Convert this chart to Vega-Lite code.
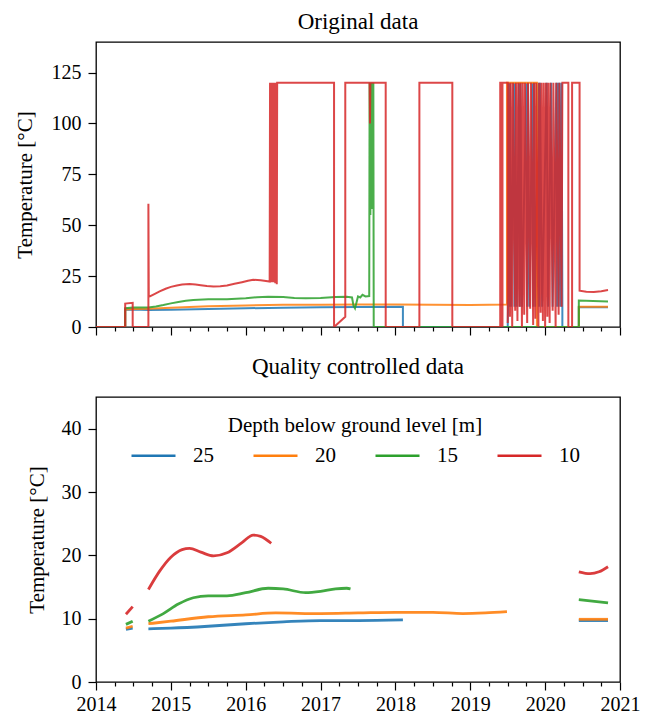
{
  "$schema": "https://vega.github.io/schema/vega-lite/v6.json",
  "padding": {"left": 13, "top": 10, "right": 10, "bottom": 0},
  "spacing": 17,
  "config": {
    "font": "Liberation Serif",
    "view": {"stroke": "#000000", "strokeWidth": 1.3},
    "title": {"fontSize": 23, "fontWeight": "normal", "color": "#000000"},
    "axis": {
      "labelFontSize": 20, "titleFontSize": 21, "titleFontWeight": "normal",
      "labelColor": "#000000", "titleColor": "#000000", "tickColor": "#000000",
      "domain": false, "grid": false, "tickWidth": 1.2, "labelPadding": 6
    }
  },
  "resolve": {"scale": {"color": "independent"}},
  "datasets": {
    "raw": [
      {"depth": "25", "year": 2014.0, "temp": 0},
      {"depth": "25", "year": 2014.39, "temp": 0},
      {"depth": "25", "year": 2014.39, "temp": 8.5},
      {"depth": "25", "year": 2014.5, "temp": 8.6},
      {"depth": "25", "year": 2014.7, "temp": 8.4},
      {"depth": "25", "year": 2015.0, "temp": 8.5},
      {"depth": "25", "year": 2015.5, "temp": 8.8},
      {"depth": "25", "year": 2016.0, "temp": 9.2},
      {"depth": "25", "year": 2016.5, "temp": 9.5},
      {"depth": "25", "year": 2017.0, "temp": 9.7},
      {"depth": "25", "year": 2017.5, "temp": 9.8},
      {"depth": "25", "year": 2018.1, "temp": 9.9},
      {"depth": "25", "year": 2018.1, "temp": 0},
      {"depth": "25", "year": 2019.5, "temp": 0},
      {"depth": "25", "year": 2019.505, "temp": 10},
      {"depth": "25", "year": 2019.51, "temp": 120},
      {"depth": "25", "year": 2019.52, "temp": 10},
      {"depth": "25", "year": 2019.53, "temp": 120},
      {"depth": "25", "year": 2019.545, "temp": 10},
      {"depth": "25", "year": 2019.58, "temp": 120},
      {"depth": "25", "year": 2019.59, "temp": 10},
      {"depth": "25", "year": 2019.6, "temp": 120},
      {"depth": "25", "year": 2019.62, "temp": 10},
      {"depth": "25", "year": 2019.65, "temp": 120},
      {"depth": "25", "year": 2019.66, "temp": 10},
      {"depth": "25", "year": 2019.67, "temp": 120},
      {"depth": "25", "year": 2019.69, "temp": 10},
      {"depth": "25", "year": 2019.75, "temp": 120},
      {"depth": "25", "year": 2019.76, "temp": 10},
      {"depth": "25", "year": 2019.77, "temp": 120},
      {"depth": "25", "year": 2019.79, "temp": 10},
      {"depth": "25", "year": 2019.83, "temp": 120},
      {"depth": "25", "year": 2019.84, "temp": 10},
      {"depth": "25", "year": 2019.85, "temp": 120},
      {"depth": "25", "year": 2019.87, "temp": 10},
      {"depth": "25", "year": 2019.91, "temp": 120},
      {"depth": "25", "year": 2019.92, "temp": 10},
      {"depth": "25", "year": 2019.93, "temp": 120},
      {"depth": "25", "year": 2019.96, "temp": 10},
      {"depth": "25", "year": 2020.02, "temp": 120},
      {"depth": "25", "year": 2020.04, "temp": 10},
      {"depth": "25", "year": 2020.08, "temp": 120},
      {"depth": "25", "year": 2020.1, "temp": 10},
      {"depth": "25", "year": 2020.15, "temp": 120},
      {"depth": "25", "year": 2020.16, "temp": 10},
      {"depth": "25", "year": 2020.17, "temp": 120},
      {"depth": "25", "year": 2020.18, "temp": 10},
      {"depth": "25", "year": 2020.19, "temp": 120},
      {"depth": "25", "year": 2020.21, "temp": 10},
      {"depth": "25", "year": 2020.22, "temp": 120},
      {"depth": "25", "year": 2020.23, "temp": 10},
      {"depth": "25", "year": 2020.23, "temp": 0},
      {"depth": "25", "year": 2020.45, "temp": 0},
      {"depth": "25", "year": 2020.45, "temp": 9.7},
      {"depth": "25", "year": 2020.84, "temp": 9.7},

      {"depth": "20", "year": 2014.0, "temp": 0},
      {"depth": "20", "year": 2014.39, "temp": 0},
      {"depth": "20", "year": 2014.39, "temp": 8.6},
      {"depth": "20", "year": 2014.5, "temp": 8.8},
      {"depth": "20", "year": 2014.7, "temp": 9.0},
      {"depth": "20", "year": 2015.0, "temp": 9.4},
      {"depth": "20", "year": 2015.5, "temp": 10.2},
      {"depth": "20", "year": 2016.0, "temp": 10.6},
      {"depth": "20", "year": 2016.5, "temp": 10.9},
      {"depth": "20", "year": 2017.0, "temp": 10.9},
      {"depth": "20", "year": 2017.5, "temp": 11.0},
      {"depth": "20", "year": 2018.0, "temp": 11.1},
      {"depth": "20", "year": 2018.5, "temp": 10.9},
      {"depth": "20", "year": 2019.0, "temp": 10.8},
      {"depth": "20", "year": 2019.49, "temp": 11.1},
      {"depth": "20", "year": 2019.49, "temp": 120},
      {"depth": "20", "year": 2019.89, "temp": 120},
      {"depth": "20", "year": 2019.89, "temp": 0},
      {"depth": "20", "year": 2020.45, "temp": 0},
      {"depth": "20", "year": 2020.45, "temp": 9.9},
      {"depth": "20", "year": 2020.84, "temp": 9.9},

      {"depth": "15", "year": 2014.0, "temp": 0},
      {"depth": "15", "year": 2014.39, "temp": 0},
      {"depth": "15", "year": 2014.39, "temp": 9.2},
      {"depth": "15", "year": 2014.5, "temp": 9.6},
      {"depth": "15", "year": 2014.7, "temp": 9.6},
      {"depth": "15", "year": 2014.8, "temp": 10.1},
      {"depth": "15", "year": 2014.9, "temp": 10.8},
      {"depth": "15", "year": 2015.0, "temp": 11.6},
      {"depth": "15", "year": 2015.1, "temp": 12.3},
      {"depth": "15", "year": 2015.2, "temp": 12.9},
      {"depth": "15", "year": 2015.3, "temp": 13.3},
      {"depth": "15", "year": 2015.5, "temp": 13.6},
      {"depth": "15", "year": 2015.75, "temp": 13.6},
      {"depth": "15", "year": 2016.0, "temp": 14.1},
      {"depth": "15", "year": 2016.15, "temp": 14.6},
      {"depth": "15", "year": 2016.3, "temp": 14.8},
      {"depth": "15", "year": 2016.5, "temp": 14.7},
      {"depth": "15", "year": 2016.65, "temp": 14.3},
      {"depth": "15", "year": 2016.8, "temp": 14.1},
      {"depth": "15", "year": 2017.0, "temp": 14.3},
      {"depth": "15", "year": 2017.2, "temp": 14.7},
      {"depth": "15", "year": 2017.35, "temp": 14.9},
      {"depth": "15", "year": 2017.42, "temp": 14.5},
      {"depth": "15", "year": 2017.44, "temp": 10.5},
      {"depth": "15", "year": 2017.46, "temp": 9.2},
      {"depth": "15", "year": 2017.48, "temp": 12.0},
      {"depth": "15", "year": 2017.5, "temp": 15.0},
      {"depth": "15", "year": 2017.53, "temp": 14.5},
      {"depth": "15", "year": 2017.56, "temp": 15.8},
      {"depth": "15", "year": 2017.6, "temp": 15.0},
      {"depth": "15", "year": 2017.65, "temp": 15.2},
      {"depth": "15", "year": 2017.655, "temp": 120},
      {"depth": "15", "year": 2017.665, "temp": 55},
      {"depth": "15", "year": 2017.675, "temp": 120},
      {"depth": "15", "year": 2017.685, "temp": 58},
      {"depth": "15", "year": 2017.69, "temp": 120},
      {"depth": "15", "year": 2017.7, "temp": 65},
      {"depth": "15", "year": 2017.705, "temp": 120},
      {"depth": "15", "year": 2017.71, "temp": 0},
      {"depth": "15", "year": 2020.45, "temp": 0},
      {"depth": "15", "year": 2020.45, "temp": 13.0},
      {"depth": "15", "year": 2020.84, "temp": 12.5},

      {"depth": "10", "year": 2014.0, "temp": 0},
      {"depth": "10", "year": 2014.39, "temp": 0},
      {"depth": "10", "year": 2014.39, "temp": 11.5},
      {"depth": "10", "year": 2014.49, "temp": 11.9},
      {"depth": "10", "year": 2014.49, "temp": 0},
      {"depth": "10", "year": 2014.7, "temp": 0},
      {"depth": "10", "year": 2014.7, "temp": 60.5},
      {"depth": "10", "year": 2014.705, "temp": 14.8},
      {"depth": "10", "year": 2014.78, "temp": 16.2},
      {"depth": "10", "year": 2014.85, "temp": 17.5},
      {"depth": "10", "year": 2014.93, "temp": 18.8},
      {"depth": "10", "year": 2015.0, "temp": 19.7},
      {"depth": "10", "year": 2015.08, "temp": 20.4},
      {"depth": "10", "year": 2015.15, "temp": 20.9},
      {"depth": "10", "year": 2015.25, "temp": 21.1},
      {"depth": "10", "year": 2015.33, "temp": 20.9},
      {"depth": "10", "year": 2015.4, "temp": 20.5},
      {"depth": "10", "year": 2015.48, "temp": 20.1},
      {"depth": "10", "year": 2015.57, "temp": 19.9},
      {"depth": "10", "year": 2015.66, "temp": 20.0},
      {"depth": "10", "year": 2015.75, "temp": 20.4},
      {"depth": "10", "year": 2015.85, "temp": 21.2},
      {"depth": "10", "year": 2015.95, "temp": 22.0},
      {"depth": "10", "year": 2016.03, "temp": 22.7},
      {"depth": "10", "year": 2016.1, "temp": 23.2},
      {"depth": "10", "year": 2016.2, "temp": 23.0},
      {"depth": "10", "year": 2016.27, "temp": 22.6},
      {"depth": "10", "year": 2016.32, "temp": 22.3},
      {"depth": "10", "year": 2016.325, "temp": 120},
      {"depth": "10", "year": 2016.335, "temp": 22},
      {"depth": "10", "year": 2016.345, "temp": 120},
      {"depth": "10", "year": 2016.355, "temp": 22},
      {"depth": "10", "year": 2016.365, "temp": 120},
      {"depth": "10", "year": 2016.375, "temp": 22},
      {"depth": "10", "year": 2016.385, "temp": 120},
      {"depth": "10", "year": 2016.395, "temp": 21.5},
      {"depth": "10", "year": 2016.405, "temp": 120},
      {"depth": "10", "year": 2016.415, "temp": 21},
      {"depth": "10", "year": 2016.42, "temp": 120},
      {"depth": "10", "year": 2017.18, "temp": 120},
      {"depth": "10", "year": 2017.18, "temp": 0},
      {"depth": "10", "year": 2017.33, "temp": 5},
      {"depth": "10", "year": 2017.33, "temp": 120},
      {"depth": "10", "year": 2017.655, "temp": 120},
      {"depth": "10", "year": 2017.66, "temp": 100},
      {"depth": "10", "year": 2017.665, "temp": 120},
      {"depth": "10", "year": 2017.87, "temp": 120},
      {"depth": "10", "year": 2017.87, "temp": 0},
      {"depth": "10", "year": 2018.32, "temp": 0},
      {"depth": "10", "year": 2018.32, "temp": 120},
      {"depth": "10", "year": 2018.76, "temp": 120},
      {"depth": "10", "year": 2018.76, "temp": 0},
      {"depth": "10", "year": 2019.4, "temp": 0},
      {"depth": "10", "year": 2019.4, "temp": 120},
      {"depth": "10", "year": 2019.42, "temp": 120},
      {"depth": "10", "year": 2019.42, "temp": 0},
      {"depth": "10", "year": 2019.43, "temp": 0},
      {"depth": "10", "year": 2019.43, "temp": 120},
      {"depth": "10", "year": 2019.5, "temp": 120},
      {"depth": "10", "year": 2019.5, "temp": 2},
      {"depth": "10", "year": 2019.51, "temp": 120},
      {"depth": "10", "year": 2019.53, "temp": 5},
      {"depth": "10", "year": 2019.54, "temp": 120},
      {"depth": "10", "year": 2019.56, "temp": 0},
      {"depth": "10", "year": 2019.57, "temp": 120},
      {"depth": "10", "year": 2019.6, "temp": 8},
      {"depth": "10", "year": 2019.61, "temp": 120},
      {"depth": "10", "year": 2019.63, "temp": 3},
      {"depth": "10", "year": 2019.64, "temp": 120},
      {"depth": "10", "year": 2019.66, "temp": 10},
      {"depth": "10", "year": 2019.67, "temp": 120},
      {"depth": "10", "year": 2019.69, "temp": 0},
      {"depth": "10", "year": 2019.7, "temp": 120},
      {"depth": "10", "year": 2019.72, "temp": 6},
      {"depth": "10", "year": 2019.73, "temp": 120},
      {"depth": "10", "year": 2019.76, "temp": 2},
      {"depth": "10", "year": 2019.77, "temp": 120},
      {"depth": "10", "year": 2019.8, "temp": 9},
      {"depth": "10", "year": 2019.81, "temp": 120},
      {"depth": "10", "year": 2019.84, "temp": 1},
      {"depth": "10", "year": 2019.85, "temp": 120},
      {"depth": "10", "year": 2019.87, "temp": 4},
      {"depth": "10", "year": 2019.88, "temp": 120},
      {"depth": "10", "year": 2019.91, "temp": 0},
      {"depth": "10", "year": 2019.92, "temp": 120},
      {"depth": "10", "year": 2019.94, "temp": 7},
      {"depth": "10", "year": 2019.95, "temp": 120},
      {"depth": "10", "year": 2019.97, "temp": 3},
      {"depth": "10", "year": 2019.98, "temp": 120},
      {"depth": "10", "year": 2020.0, "temp": 0},
      {"depth": "10", "year": 2020.01, "temp": 120},
      {"depth": "10", "year": 2020.03, "temp": 5},
      {"depth": "10", "year": 2020.04, "temp": 120},
      {"depth": "10", "year": 2020.06, "temp": 2},
      {"depth": "10", "year": 2020.07, "temp": 120},
      {"depth": "10", "year": 2020.1, "temp": 8},
      {"depth": "10", "year": 2020.11, "temp": 120},
      {"depth": "10", "year": 2020.14, "temp": 0},
      {"depth": "10", "year": 2020.15, "temp": 120},
      {"depth": "10", "year": 2020.18, "temp": 6},
      {"depth": "10", "year": 2020.19, "temp": 120},
      {"depth": "10", "year": 2020.22, "temp": 10},
      {"depth": "10", "year": 2020.23, "temp": 120},
      {"depth": "10", "year": 2020.31, "temp": 120},
      {"depth": "10", "year": 2020.31, "temp": 0},
      {"depth": "10", "year": 2020.36, "temp": 0},
      {"depth": "10", "year": 2020.36, "temp": 120},
      {"depth": "10", "year": 2020.46, "temp": 120},
      {"depth": "10", "year": 2020.46, "temp": 17.8},
      {"depth": "10", "year": 2020.55, "temp": 17.3},
      {"depth": "10", "year": 2020.65, "temp": 17.2},
      {"depth": "10", "year": 2020.75, "temp": 17.6},
      {"depth": "10", "year": 2020.84, "temp": 18.2}
    ],
    "qc": [
      {"depth": "25", "seg": "a", "year": 2014.4, "temp": 8.3},
      {"depth": "25", "seg": "a", "year": 2014.49, "temp": 8.5},
      {"depth": "25", "seg": "b", "year": 2014.7, "temp": 8.4},
      {"depth": "25", "seg": "b", "year": 2015.0, "temp": 8.5},
      {"depth": "25", "seg": "b", "year": 2015.5, "temp": 8.8},
      {"depth": "25", "seg": "b", "year": 2016.0, "temp": 9.2},
      {"depth": "25", "seg": "b", "year": 2016.5, "temp": 9.5},
      {"depth": "25", "seg": "b", "year": 2017.0, "temp": 9.7},
      {"depth": "25", "seg": "b", "year": 2017.5, "temp": 9.7},
      {"depth": "25", "seg": "b", "year": 2018.1, "temp": 9.8},
      {"depth": "25", "seg": "c", "year": 2020.45, "temp": 9.7},
      {"depth": "25", "seg": "c", "year": 2020.84, "temp": 9.7},

      {"depth": "20", "seg": "a", "year": 2014.4, "temp": 8.5},
      {"depth": "20", "seg": "a", "year": 2014.49, "temp": 8.8},
      {"depth": "20", "seg": "b", "year": 2014.7, "temp": 9.2},
      {"depth": "20", "seg": "b", "year": 2015.0, "temp": 9.6},
      {"depth": "20", "seg": "b", "year": 2015.5, "temp": 10.3},
      {"depth": "20", "seg": "b", "year": 2016.0, "temp": 10.6},
      {"depth": "20", "seg": "b", "year": 2016.4, "temp": 10.9},
      {"depth": "20", "seg": "b", "year": 2017.0, "temp": 10.8},
      {"depth": "20", "seg": "b", "year": 2017.5, "temp": 10.9},
      {"depth": "20", "seg": "b", "year": 2018.0, "temp": 11.0},
      {"depth": "20", "seg": "b", "year": 2018.5, "temp": 11.0},
      {"depth": "20", "seg": "b", "year": 2018.9, "temp": 10.8},
      {"depth": "20", "seg": "b", "year": 2019.2, "temp": 10.9},
      {"depth": "20", "seg": "b", "year": 2019.49, "temp": 11.1},
      {"depth": "20", "seg": "c", "year": 2020.45, "temp": 9.9},
      {"depth": "20", "seg": "c", "year": 2020.84, "temp": 9.9},

      {"depth": "15", "seg": "a", "year": 2014.4, "temp": 9.1},
      {"depth": "15", "seg": "a", "year": 2014.49, "temp": 9.6},
      {"depth": "15", "seg": "b", "year": 2014.7, "temp": 9.6},
      {"depth": "15", "seg": "b", "year": 2014.9, "temp": 10.8},
      {"depth": "15", "seg": "b", "year": 2015.1, "temp": 12.3},
      {"depth": "15", "seg": "b", "year": 2015.3, "temp": 13.3},
      {"depth": "15", "seg": "b", "year": 2015.5, "temp": 13.6},
      {"depth": "15", "seg": "b", "year": 2015.75, "temp": 13.6},
      {"depth": "15", "seg": "b", "year": 2016.0, "temp": 14.1},
      {"depth": "15", "seg": "b", "year": 2016.3, "temp": 14.8},
      {"depth": "15", "seg": "b", "year": 2016.5, "temp": 14.7},
      {"depth": "15", "seg": "b", "year": 2016.8, "temp": 14.1},
      {"depth": "15", "seg": "b", "year": 2017.0, "temp": 14.3},
      {"depth": "15", "seg": "b", "year": 2017.2, "temp": 14.7},
      {"depth": "15", "seg": "b", "year": 2017.35, "temp": 14.8},
      {"depth": "15", "seg": "b", "year": 2017.4, "temp": 14.7},
      {"depth": "15", "seg": "c", "year": 2020.45, "temp": 13.0},
      {"depth": "15", "seg": "c", "year": 2020.84, "temp": 12.5},

      {"depth": "10", "seg": "a", "year": 2014.4, "temp": 10.7},
      {"depth": "10", "seg": "a", "year": 2014.49, "temp": 11.9},
      {"depth": "10", "seg": "b", "year": 2014.7, "temp": 14.6},
      {"depth": "10", "seg": "b", "year": 2014.85, "temp": 17.5},
      {"depth": "10", "seg": "b", "year": 2015.0, "temp": 19.7},
      {"depth": "10", "seg": "b", "year": 2015.15, "temp": 20.9},
      {"depth": "10", "seg": "b", "year": 2015.25, "temp": 21.1},
      {"depth": "10", "seg": "b", "year": 2015.4, "temp": 20.5},
      {"depth": "10", "seg": "b", "year": 2015.57, "temp": 19.9},
      {"depth": "10", "seg": "b", "year": 2015.75, "temp": 20.4},
      {"depth": "10", "seg": "b", "year": 2015.95, "temp": 22.0},
      {"depth": "10", "seg": "b", "year": 2016.1, "temp": 23.2},
      {"depth": "10", "seg": "b", "year": 2016.2, "temp": 23.0},
      {"depth": "10", "seg": "b", "year": 2016.34, "temp": 21.9},
      {"depth": "10", "seg": "c", "year": 2020.45, "temp": 17.4},
      {"depth": "10", "seg": "c", "year": 2020.6, "temp": 17.1},
      {"depth": "10", "seg": "c", "year": 2020.72, "temp": 17.4},
      {"depth": "10", "seg": "c", "year": 2020.84, "temp": 18.2}
    ]
  },
  "vconcat": [
    {
      "title": {"text": "Original data", "font": "Liberation Serif", "fontSize": 23, "fontWeight": "normal", "offset": 8},
      "width": 524,
      "height": 285,
      "data": {"name": "raw"},
      "mark": {"type": "line", "strokeWidth": 2, "strokeOpacity": 0.85, "clip": true},
      "encoding": {
        "x": {
          "field": "year", "type": "quantitative",
          "scale": {"domain": [2014, 2021], "nice": false, "zero": false},
          "axis": {
            "title": null, "labels": false,
            "values": [2014, 2014.25, 2014.5, 2014.75, 2015, 2015.25, 2015.5, 2015.75, 2016, 2016.25, 2016.5, 2016.75, 2017, 2017.25, 2017.5, 2017.75, 2018, 2018.25, 2018.5, 2018.75, 2019, 2019.25, 2019.5, 2019.75, 2020, 2020.25, 2020.5, 2020.75, 2021],
            "tickSize": {"condition": {"test": "datum.value % 1 === 0", "value": 8}, "value": 4}
          }
        },
        "y": {
          "field": "temp", "type": "quantitative",
          "scale": {"domain": [0, 140], "nice": false},
          "axis": {"title": "Temperature [°C]", "values": [0, 25, 50, 75, 100, 125], "tickSize": 8, "labelPadding": 7, "titlePadding": 16,
                   "labelFont": "Liberation Serif", "titleFont": "Liberation Serif", "titleFontWeight": "normal"}
        },
        "color": {
          "field": "depth", "type": "nominal",
          "scale": {"domain": ["25", "20", "15", "10"], "range": ["#1f77b4", "#ff7f0e", "#2ca02c", "#d62728"]},
          "legend": null
        },
        "order": {"value": null}
      }
    },
    {
      "title": {"text": "Quality controlled data", "font": "Liberation Serif", "fontSize": 23, "fontWeight": "normal", "offset": 18},
      "width": 524,
      "height": 285,
      "data": {"name": "qc"},
      "mark": {"type": "line", "strokeWidth": 2.8, "strokeOpacity": 0.9, "interpolate": "monotone"},
      "encoding": {
        "x": {
          "field": "year", "type": "quantitative",
          "scale": {"domain": [2014, 2021], "nice": false, "zero": false},
          "axis": {
            "title": null, "labelOverlap": false, "labelFlush": false, "labelFont": "Liberation Serif", "labelPadding": 4,
            "values": [2014, 2014.25, 2014.5, 2014.75, 2015, 2015.25, 2015.5, 2015.75, 2016, 2016.25, 2016.5, 2016.75, 2017, 2017.25, 2017.5, 2017.75, 2018, 2018.25, 2018.5, 2018.75, 2019, 2019.25, 2019.5, 2019.75, 2020, 2020.25, 2020.5, 2020.75, 2021],
            "labelExpr": "datum.value % 1 === 0 ? format(datum.value, 'd') : ''",
            "tickSize": {"condition": {"test": "datum.value % 1 === 0", "value": 8}, "value": 4}
          }
        },
        "y": {
          "field": "temp", "type": "quantitative",
          "scale": {"domain": [0, 45], "nice": false},
          "axis": {"title": "Temperature [°C]", "values": [0, 10, 20, 30, 40], "tickSize": 8, "labelPadding": 7, "titlePadding": 14,
                   "labelFont": "Liberation Serif", "titleFont": "Liberation Serif", "titleFontWeight": "normal"}
        },
        "color": {
          "field": "depth", "type": "nominal",
          "scale": {"domain": ["25", "20", "15", "10"], "range": ["#1f77b4", "#ff7f0e", "#2ca02c", "#d62728"]},
          "legend": {
            "orient": "none", "legendX": 34, "legendY": 18,
            "direction": "horizontal", "columns": 4,
            "title": "Depth below ground level [m]", "titleAnchor": "middle", "titleLimit": 500,
            "titleFont": "Liberation Serif", "labelFont": "Liberation Serif",
            "titleFontSize": 21, "titleFontWeight": "normal", "titleColor": "#000000", "titlePadding": -4,
            "labelFontSize": 21, "labelColor": "#000000", "labelOffset": 16,
            "symbolType": "stroke", "symbolSize": 1936, "symbolStrokeWidth": 2.5,
            "columnPadding": 34, "padding": 0
          }
        },
        "detail": {"field": "seg", "type": "nominal"},
        "order": {"value": null}
      }
    }
  ]
}
